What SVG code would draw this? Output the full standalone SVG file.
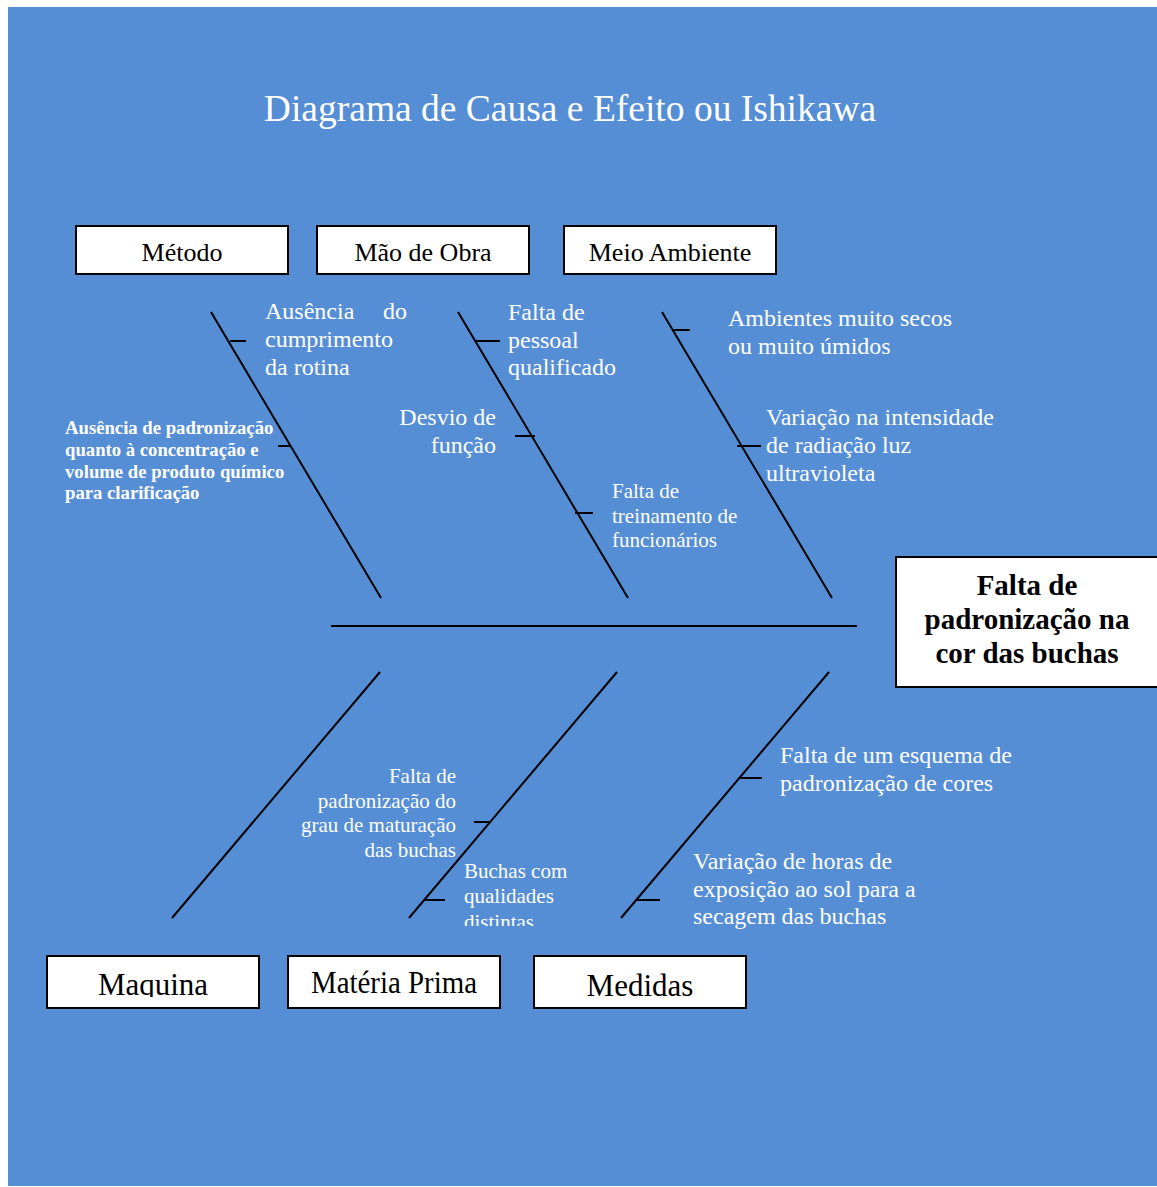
<svg xmlns="http://www.w3.org/2000/svg" width="1157" height="1187" viewBox="0 0 1157 1187">
<defs>
<style>
.bg{fill:#558ED5}
.box{fill:#fff;stroke:#000;stroke-width:2}
.lbl{font-family:"Liberation Serif","Times New Roman",serif;fill:#000;text-anchor:middle}
.w{font-family:"Liberation Serif","Times New Roman",serif;fill:#fff}
.ln{stroke:#000;stroke-width:2;fill:none}
</style>
<clipPath id="cbot"><rect x="0" y="950" width="1157" height="47"/></clipPath>
<clipPath id="cdist"><rect x="440" y="860" width="200" height="66"/></clipPath>
</defs>
<rect x="0" y="0" width="1157" height="1187" fill="#fff"/>
<rect class="bg" x="8" y="7" width="1149" height="1179"/>
<text class="w" x="570" y="121" font-size="37.5" text-anchor="middle">Diagrama de Causa e Efeito ou Ishikawa</text>

<g id="connectors">
<line class="ln" x1="331" y1="626" x2="857" y2="626"/>
<line class="ln" x1="211" y1="312" x2="381" y2="598"/>
<line class="ln" x1="458" y1="312" x2="628" y2="598"/>
<line class="ln" x1="662" y1="312" x2="832" y2="598"/>
<line class="ln" x1="380" y1="672" x2="172" y2="918"/>
<line class="ln" x1="617" y1="672" x2="409" y2="918"/>
<line class="ln" x1="829" y1="672" x2="621" y2="918"/>
<line class="ln" x1="230" y1="341" x2="246" y2="341"/>
<line class="ln" x1="278" y1="446" x2="290" y2="446"/>
<line class="ln" x1="475" y1="341" x2="500" y2="341"/>
<line class="ln" x1="515" y1="436" x2="535" y2="436"/>
<line class="ln" x1="575" y1="513" x2="593" y2="513"/>
<line class="ln" x1="672" y1="330" x2="690" y2="330"/>
<line class="ln" x1="737" y1="446" x2="761" y2="446"/>
<line class="ln" x1="474" y1="822" x2="490" y2="822"/>
<line class="ln" x1="425" y1="900" x2="445" y2="900"/>
<line class="ln" x1="738" y1="778" x2="762" y2="778"/>
<line class="ln" x1="635" y1="900" x2="660" y2="900"/>
</g>

<g id="metodo"><rect class="box" x="76" y="226" width="212" height="48"/><text class="lbl" x="182" y="261" font-size="26">Método</text></g>
<g id="mao-de-obra"><rect class="box" x="317" y="226" width="212" height="48"/><text class="lbl" x="423" y="261" font-size="26">Mão de Obra</text></g>
<g id="meio-ambiente"><rect class="box" x="564" y="226" width="212" height="48"/><text class="lbl" x="670" y="261" font-size="26">Meio Ambiente</text></g>

<g id="maquina"><rect class="box" x="47" y="956" width="212" height="52"/><text class="lbl" x="153" y="995" font-size="31" clip-path="url(#cbot)">Maquina</text></g>
<g id="materia-prima"><rect class="box" x="288" y="956" width="212" height="52"/><text class="lbl" x="394" y="993" font-size="31" textLength="166" lengthAdjust="spacingAndGlyphs" clip-path="url(#cbot)">Matéria Prima</text></g>
<g id="medidas"><rect class="box" x="534" y="956" width="212" height="52"/><text class="lbl" x="640" y="996" font-size="31" clip-path="url(#cbot)">Medidas</text></g>

<g id="efeito"><rect class="box" x="896" y="557" width="270" height="130"/>
<text class="lbl" x="1027" font-size="29" font-weight="bold"><tspan x="1027" y="595">Falta de</tspan><tspan x="1027" y="629">padronização na</tspan><tspan x="1027" y="663">cor das buchas</tspan></text></g>

<g id="causa-metodo-1"><text class="w" font-size="24"><tspan x="265" y="319">Ausência</tspan><tspan x="383" y="319">do</tspan><tspan x="265" y="347">cumprimento</tspan><tspan x="265" y="375">da rotina</tspan></text></g>
<g id="causa-metodo-2"><text class="w" font-size="18.7" font-weight="bold"><tspan x="65" y="434">Ausência de padronização</tspan><tspan x="65" y="456">quanto à concentração e</tspan><tspan x="65" y="478">volume de produto químico</tspan><tspan x="65" y="499">para clarificação</tspan></text></g>

<g id="causa-mao-1"><text class="w" font-size="24"><tspan x="508" y="320">Falta de</tspan><tspan x="508" y="348">pessoal</tspan><tspan x="508" y="375">qualificado</tspan></text></g>
<g id="causa-mao-2"><text class="w" font-size="24" text-anchor="end"><tspan x="496" y="425">Desvio de</tspan><tspan x="496" y="453">função</tspan></text></g>
<g id="causa-mao-3"><text class="w" font-size="21"><tspan x="612" y="498">Falta de</tspan><tspan x="612" y="523">treinamento de</tspan><tspan x="612" y="547">funcionários</tspan></text></g>

<g id="causa-meio-1"><text class="w" font-size="24"><tspan x="728" y="326">Ambientes muito secos</tspan><tspan x="728" y="354">ou muito úmidos</tspan></text></g>
<g id="causa-meio-2"><text class="w" font-size="24"><tspan x="766" y="425">Variação na intensidade</tspan><tspan x="766" y="453">de radiação luz</tspan><tspan x="766" y="481">ultravioleta</tspan></text></g>

<g id="causa-mp-1"><text class="w" font-size="21" text-anchor="end"><tspan x="456" y="783">Falta de</tspan><tspan x="456" y="808">padronização do</tspan><tspan x="456" y="832">grau de maturação</tspan><tspan x="456" y="857">das buchas</tspan></text></g>
<g id="causa-mp-2"><text class="w" font-size="21" clip-path="url(#cdist)"><tspan x="464" y="878">Buchas com</tspan><tspan x="464" y="903">qualidades</tspan><tspan x="464" y="929">distintas</tspan></text></g>

<g id="causa-med-1"><text class="w" font-size="24"><tspan x="780" y="763">Falta de um esquema de</tspan><tspan x="780" y="791">padronização de cores</tspan></text></g>
<g id="causa-med-2"><text class="w" font-size="24"><tspan x="693" y="869">Variação de horas de</tspan><tspan x="693" y="897">exposição ao sol para a</tspan><tspan x="693" y="924">secagem das buchas</tspan></text></g>
</svg>
